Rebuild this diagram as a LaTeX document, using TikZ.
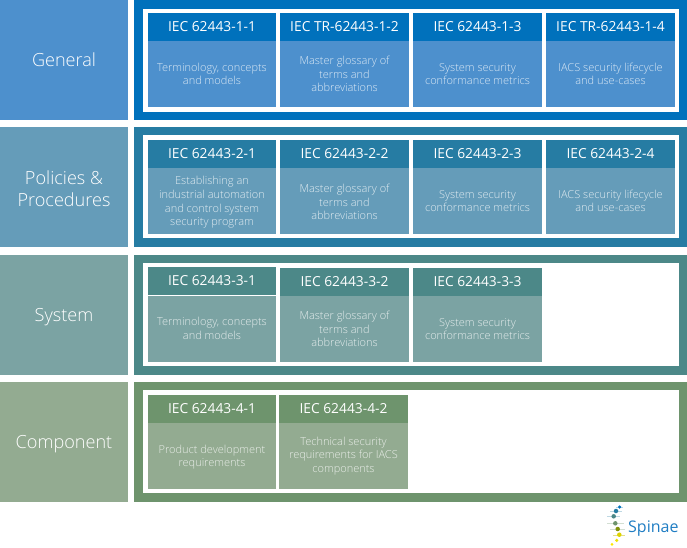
\documentclass[tikz,border=0pt]{standalone}
\usepackage{fontspec}
\setmainfont{Open Sans Light}
\newfontfamily\headfont{Open Sans}
\definecolor{genDark}{HTML}{0071BC}
\definecolor{genLight}{HTML}{4D90CD}
\definecolor{polDark}{HTML}{267CA3}
\definecolor{polLight}{HTML}{659CB9}
\definecolor{sysDark}{HTML}{4C8888}
\definecolor{sysLight}{HTML}{7BA3A3}
\definecolor{comDark}{HTML}{6E946D}
\definecolor{comLight}{HTML}{93AB91}
\tikzset{
  x=1pt,y=-1pt,
  side/.style={inner sep=0pt,text=white,align=center,font=\fontsize{18.1}{22}\selectfont},
  plate/.style={anchor=north west,inner sep=0pt,minimum width=128pt,minimum height=120pt},
  band/.style={anchor=north west,inner sep=0pt,minimum width=553pt,minimum height=120pt},
  inset/.style={anchor=north west,inner sep=0pt,fill=white,minimum width=536pt,minimum height=103pt},
  head/.style={inner sep=0pt,minimum width=129pt,minimum height=28pt,text=white,font=\headfont\fontsize{13.8}{16}\selectfont},
  cell/.style={inner sep=0pt,minimum width=129pt,minimum height=66pt},
  copy/.style={inner sep=0pt,text=white,text opacity=0.8,align=center,font=\fontsize{11}{13.6}\selectfont},
  desc/.style={cell,copy},
  spot/.style={circle,inner sep=0pt,minimum size=4.5pt},
}
\begin{document}
\begin{tikzpicture}
  \useasboundingbox (0,0) rectangle (687,547);
  % left column
  \node[plate,fill=genLight] (plate1) at (0,0) {};
  \node[plate,fill=polLight] (plate2) at (0,127) {};
  \node[plate,fill=sysLight] (plate3) at (0,255) {};
  \node[plate,fill=comLight] (plate4) at (0,382) {};
  \node[side] (general) at (64,60) {General};
  \node[side] (policies) at (64,188.5) {Policies \&\\Procedures};
  \node[side] (system) at (64,317) {System};
  \node[side] (component) at (64,444) {Component};
  % bands
  \node[band,fill=genDark] (band1) at (134,0) {};
  \node[band,fill=polDark] (band2) at (134,127) {};
  \node[band,fill=sysDark] (band3) at (134,255) {};
  \node[band,fill=comDark] (band4) at (134,382) {};
  \node[inset] (inset1) at (143,9) {};
  \node[inset] (inset2) at (143,135) {};
  \node[inset] (inset3) at (143,263) {};
  \node[inset] (inset4) at (143,390) {};
  % general
  \node[head,fill=genDark,minimum width=128pt] (h11) at (212,27) {IEC 62443-1-1};
  \node[head,fill=genDark] (h12) at (344.5,27) {IEC TR-62443-1-2};
  \node[head,fill=genDark] (h13) at (477.5,27) {IEC 62443-1-3};
  \node[head,fill=genDark] (h14) at (610.5,27) {IEC TR-62443-1-4};
  \node[desc,fill=genLight,minimum width=128pt] (d11) at (212,74) {Terminology, concepts\\and models};
  \node[desc,fill=genLight] (d12) at (344.5,74) {Master glossary of\\terms and\\abbreviations};
  \node[desc,fill=genLight] (d13) at (477.5,74) {System security\\conformance metrics};
  \node[desc,fill=genLight] (d14) at (610.5,74) {IACS security lifecycle\\and use-cases};
  % policies
  \node[head,fill=polDark,minimum width=128pt] (h21) at (212,154) {IEC 62443-2-1};
  \node[head,fill=polDark] (h22) at (344.5,154) {IEC 62443-2-2};
  \node[head,fill=polDark] (h23) at (477.5,154) {IEC 62443-2-3};
  \node[head,fill=polDark] (h24) at (610.5,154) {IEC 62443-2-4};
  \node[cell,fill=polLight,minimum width=128pt] (d21) at (212,201) {};
  \node[copy,yshift=-1.5pt] (t21) at (d21) {Establishing an\\industrial automation\\and control system\\security program};
  \node[cell,fill=polLight] (d22) at (344.5,201) {};
  \node[copy,yshift=-1pt] (t22) at (d22) {Master glossary of\\terms and\\abbreviations};
  \node[desc,fill=polLight] (d23) at (477.5,201) {System security\\conformance metrics};
  \node[desc,fill=polLight] (d24) at (610.5,201) {IACS security lifecycle\\and use-cases};
  % system
  \node[head,fill=sysDark,minimum width=128pt] (h31) at (212,281) {IEC 62443-3-1};
  \node[head,fill=sysDark] (h32) at (344.5,282) {IEC 62443-3-2};
  \node[head,fill=sysDark] (h33) at (477.5,282) {IEC 62443-3-3};
  \node[desc,fill=sysLight,minimum width=128pt] (d31) at (212,328.5) {Terminology, concepts\\and models};
  \node[desc,fill=sysLight] (d32) at (344.5,329) {Master glossary of\\terms and\\abbreviations};
  \node[desc,fill=sysLight] (d33) at (477.5,329) {System security\\conformance metrics};
  % component
  \node[head,fill=comDark,minimum width=128pt] (h41) at (212,409) {IEC 62443-4-1};
  \node[head,fill=comDark] (h42) at (343.5,409) {IEC 62443-4-2};
  \node[cell,fill=comLight,minimum width=128pt] (d41) at (212,456) {};
  \node[copy,yshift=-1pt] (t41) at (d41) {Product development\\requirements};
  \node[desc,fill=comLight] (d42) at (343.5,456) {Technical security\\requirements for IACS\\components};
  % logo
  \draw[line width=1pt,color=genDark!30] (616,507) -- (623,507);
  \draw[line width=1pt,color=polDark!30] (610,511) -- (622,511);
  \draw[line width=1pt,color=polDark!30] (607,516) -- (620,516);
  \draw[line width=1pt,color=comDark!30] (607,523) -- (624,523);
  \draw[line width=1pt,color=comDark!30] (610,529) -- (625,529);
  \draw[line width=1pt,color=yellow!40!olive!40] (613,535) -- (625,535);
  \node[spot,fill=genDark,minimum size=3.5pt] (dot1) at (619.7,507) {};
  \node[spot,fill=polDark] (dot2) at (616,511) {};
  \node[spot,fill=sysDark] (dot3) at (613.7,516.3) {};
  \node[spot,fill=comDark] (dot4) at (615.3,523.3) {};
  \node[spot,fill=olive!80!green] (dot5) at (617.7,529) {};
  \node[spot,fill=yellow!70!olive] (dot6) at (619.3,534.7) {};
  \node[spot,fill=yellow!85!olive,minimum size=3.5pt] (dot7) at (616.7,540.3) {};
  \node[spot,fill=yellow!90!orange,minimum size=3pt] (dot8) at (612,544.3) {};
  \node[anchor=base west,inner sep=0pt,text=genLight!40!genDark,font=\headfont\fontsize{16}{18}\selectfont] (spinae) at (628,532) {Spinae};
\end{tikzpicture}
\end{document}
